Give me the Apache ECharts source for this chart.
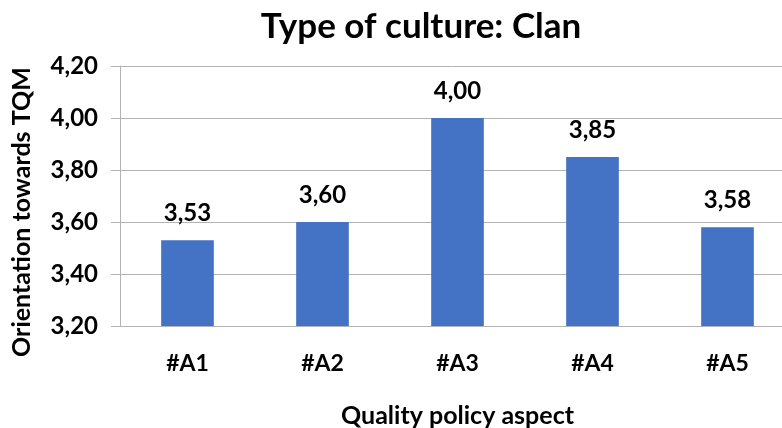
<!DOCTYPE html>
<html>
<head>
<meta charset="utf-8">
<script src="https://cdn.jsdelivr.net/npm/echarts@6/dist/echarts.min.js"></script>
<style>html,body{margin:0;padding:0;background:#fff;}#c{width:782px;height:428px;}</style>
</head>
<body>
<div id="c"></div>
<script>
const categories = ['#A1', '#A2', '#A3', '#A4', '#A5'];
const values = [3.53, 3.60, 4.00, 3.85, 3.58];
const yTicks = { min: 3.2, max: 4.2, interval: 0.2 };
const titleText = 'Type of culture: Clan';
const xName = 'Quality policy aspect';
const yName = 'Orientation towards TQM';

const fmt = v => Number(v).toFixed(2).replace('.', ',');
const FONT = 'Lato';
const chart = echarts.init(document.getElementById('c'), null, { renderer: 'canvas' });
chart.setOption({
  animation: false,
  backgroundColor: '#ffffff',
  title: {
    text: titleText,
    left: 416,
    top: 4,
    textAlign: 'center',
    textStyle: { fontFamily: FONT, fontWeight: 'bold', fontSize: 35, color: '#000' }
  },
  grid: { left: 120, width: 675, top: 66, height: 260, containLabel: false, outerBoundsMode: 'none' },
  xAxis: {
    type: 'category',
    data: categories,
    name: xName,
    nameLocation: 'middle',
    nameGap: 77,
    nameTextStyle: { fontFamily: FONT, fontWeight: 'bold', fontSize: 25, color: '#000' },
    axisLine: { show: true, lineStyle: { color: '#b3b3b3', width: 1 } },
    axisTick: { show: false },
    axisLabel: { fontFamily: FONT, fontWeight: 'bold', fontSize: 23, color: '#000', margin: 26 },
    splitLine: { show: false }
  },
  yAxis: {
    type: 'value',
    min: yTicks.min,
    max: yTicks.max,
    interval: yTicks.interval,
    name: yName,
    nameLocation: 'middle',
    nameRotate: 90,
    nameGap: 86,
    nameTextStyle: { fontFamily: FONT, fontWeight: 'bold', fontSize: 25, color: '#000', padding: [0, 32, 0, 0] },
    axisLine: { show: true, lineStyle: { color: '#b3b3b3', width: 1 } },
    axisTick: { show: true, length: 9, lineStyle: { color: '#b3b3b3' } },
    axisLabel: { fontFamily: FONT, fontWeight: 'bold', fontSize: 24, color: '#000', margin: 22, formatter: v => fmt(v) },
    splitLine: { show: true, lineStyle: { color: '#b3b3b3', width: 1 } }
  },
  series: [{
    type: 'bar',
    data: values,
    barWidth: '39%',
    itemStyle: { color: '#4472C4' },
    label: {
      show: true,
      position: 'top',
      distance: 15,
      fontFamily: FONT,
      fontWeight: 'bold',
      fontSize: 24,
      color: '#000',
      formatter: p => fmt(p.value)
    }
  }]
});
</script>
</body>
</html>
